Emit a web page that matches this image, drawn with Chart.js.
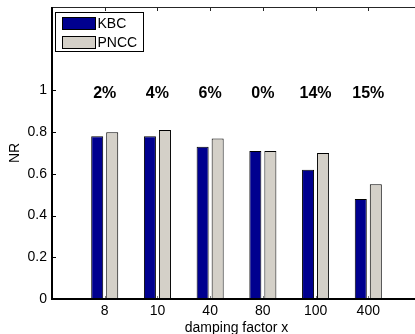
<!DOCTYPE html>
<html>
<head>
<meta charset="utf-8">
<script src="https://cdn.jsdelivr.net/npm/chart.js@4/dist/chart.umd.min.js"></script>
<style>
  html, body { margin: 0; padding: 0; background: #fff; overflow: hidden; }
  #wrap { position: absolute; left: 0; top: 0; width: 423px; height: 334px; }
</style>
</head>
<body>
<div id="wrap"><canvas id="c" width="423" height="334"></canvas></div>
<script>
// Damping factors on the x axis
const factors = ['8', '10', '40', '80', '100', '400'];
// Normalised ratio per method
const kbc  = [0.78, 0.78, 0.73, 0.71, 0.62, 0.48];
const pncc = [0.80, 0.81, 0.77, 0.71, 0.70, 0.55];
// Improvement printed above each group
const gains = ['2%', '4%', '6%', '0%', '14%', '15%'];
// Labelled y ticks
const yTickValues = [0, 0.2, 0.4, 0.6, 0.8, 1];

const FONT = '"Liberation Sans", Arial, Helvetica, sans-serif';

// one empty slot on each side so the groups sit at 1..6 of a 0..7 axis
const labels = [''].concat(factors, ['']);
const pad = arr => [null].concat(arr, [null]);

const axesPlugin = {
  id: 'matlabAxes',
  afterDatasetsDraw(chart) {
    const { ctx, scales: { x, y } } = chart;
    ctx.save();
    ctx.fillStyle = '#000';
    ctx.font = 'bold 16px ' + FONT;
    ctx.textAlign = 'center';
    ctx.textBaseline = 'middle';
    const ty = y.getPixelForValue(1) + 3;
    gains.forEach((g, i) => ctx.fillText(g, x.getPixelForValue(i + 1), ty));
    ctx.restore();
  },
  afterDraw(chart) {
    const { ctx, chartArea: a, scales: { x, y } } = chart;
    ctx.save();
    // top and right box lines
    ctx.strokeStyle = '#262626';
    ctx.lineWidth = 1;
    ctx.beginPath();
    ctx.moveTo(a.left, a.top + 0.5); ctx.lineTo(a.right, a.top + 0.5);
    ctx.moveTo(a.right - 0.5, a.top); ctx.lineTo(a.right - 0.5, a.bottom);
    ctx.stroke();
    // x ticks (inside, top and bottom)
    ctx.beginPath();
    for (let i = 1; i <= factors.length; i++) {
      const px = Math.round(x.getPixelForValue(i)) + 0.5;
      ctx.moveTo(px, a.top); ctx.lineTo(px, a.top + 4);
    }
    ctx.stroke();
    ctx.strokeStyle = '#7a7a7a';
    ctx.beginPath();
    for (let i = 1; i <= factors.length; i++) {
      const px = Math.round(x.getPixelForValue(i)) + 0.5;
      ctx.moveTo(px, a.bottom); ctx.lineTo(px, a.bottom - 3);
    }
    ctx.stroke();
    // y ticks (inside)
    ctx.strokeStyle = '#000';
    ctx.beginPath();
    yTickValues.forEach(v => {
      const py = Math.round(y.getPixelForValue(v)) + 0.5;
      ctx.moveTo(a.left, py); ctx.lineTo(a.left + 4, py);
    });
    ctx.stroke();
    // left and bottom axis lines
    ctx.lineWidth = 2;
    ctx.beginPath();
    ctx.moveTo(a.left, a.top); ctx.lineTo(a.left, a.bottom + 1);
    ctx.moveTo(a.left - 1, a.bottom); ctx.lineTo(a.right, a.bottom);
    ctx.stroke();

    // legend box
    ctx.lineWidth = 1;
    ctx.fillStyle = '#fff';
    ctx.fillRect(55.5, 12.5, 88, 39);
    ctx.strokeStyle = '#000';
    ctx.strokeRect(55.5, 12.5, 88, 39);
    const items = chart.data.datasets;
    const rows = [17, 36];
    ctx.font = '14px ' + FONT;
    ctx.textAlign = 'left';
    ctx.textBaseline = 'middle';
    items.forEach((ds, i) => {
      ctx.fillStyle = ds.backgroundColor;
      ctx.fillRect(62.5, rows[i] + 0.5, 33, 12);
      ctx.strokeRect(62.5, rows[i] + 0.5, 33, 12);
      ctx.fillStyle = '#000';
      ctx.fillText(ds.label, 97.5, rows[i] + 7);
    });

    // axis titles
    ctx.font = '14px ' + FONT;
    ctx.textAlign = 'center';
    ctx.textBaseline = 'alphabetic';
    ctx.fillText('damping factor x', (a.left + a.right) / 2, 332);
    ctx.save();
    ctx.translate(19, (a.top + a.bottom) / 2);
    ctx.rotate(-Math.PI / 2);
    ctx.fillText('NR', 0, 0);
    ctx.restore();
    ctx.restore();
  }
};

new Chart(document.getElementById('c'), {
  type: 'bar',
  data: {
    labels: labels,
    datasets: [
      { label: 'KBC', data: pad(kbc), backgroundColor: '#00008F', borderColor: '#000', borderWidth: 1, borderSkipped: false },
      { label: 'PNCC', data: pad(pncc), backgroundColor: '#D4D0C8', borderColor: '#000', borderWidth: 1, borderSkipped: false }
    ]
  },
  options: {
    responsive: false,
    animation: false,
    devicePixelRatio: 1,
    categoryPercentage: 0.57,
    barPercentage: 0.8,
    layout: { padding: { top: 7, right: 2, left: 0, bottom: 0 } },
    plugins: { legend: { display: false }, tooltip: { enabled: false }, title: { display: false } },
    scales: {
      x: {
        offset: false,
        grid: { display: false, drawTicks: false },
        border: { display: false },
        ticks: { color: '#000', font: { family: FONT, size: 14 }, padding: 4, maxRotation: 0, autoSkip: false },
        afterFit(s) { s.height = 35; s.paddingLeft = 0; s.paddingRight = 0; }
      },
      y: {
        min: 0,
        max: 1.4,
        grid: { display: false, drawTicks: false },
        border: { display: false },
        ticks: {
          stepSize: 0.2,
          color: '#000',
          font: { family: FONT, size: 14 },
          padding: 5,
          callback: v => (v > 1.0001 ? '' : String(Number(v.toFixed(1))))
        },
        afterFit(s) { s.width = 52; s.paddingTop = 0; s.paddingBottom = 0; }
      }
    }
  },
  plugins: [axesPlugin]
});
</script>
</body>
</html>
